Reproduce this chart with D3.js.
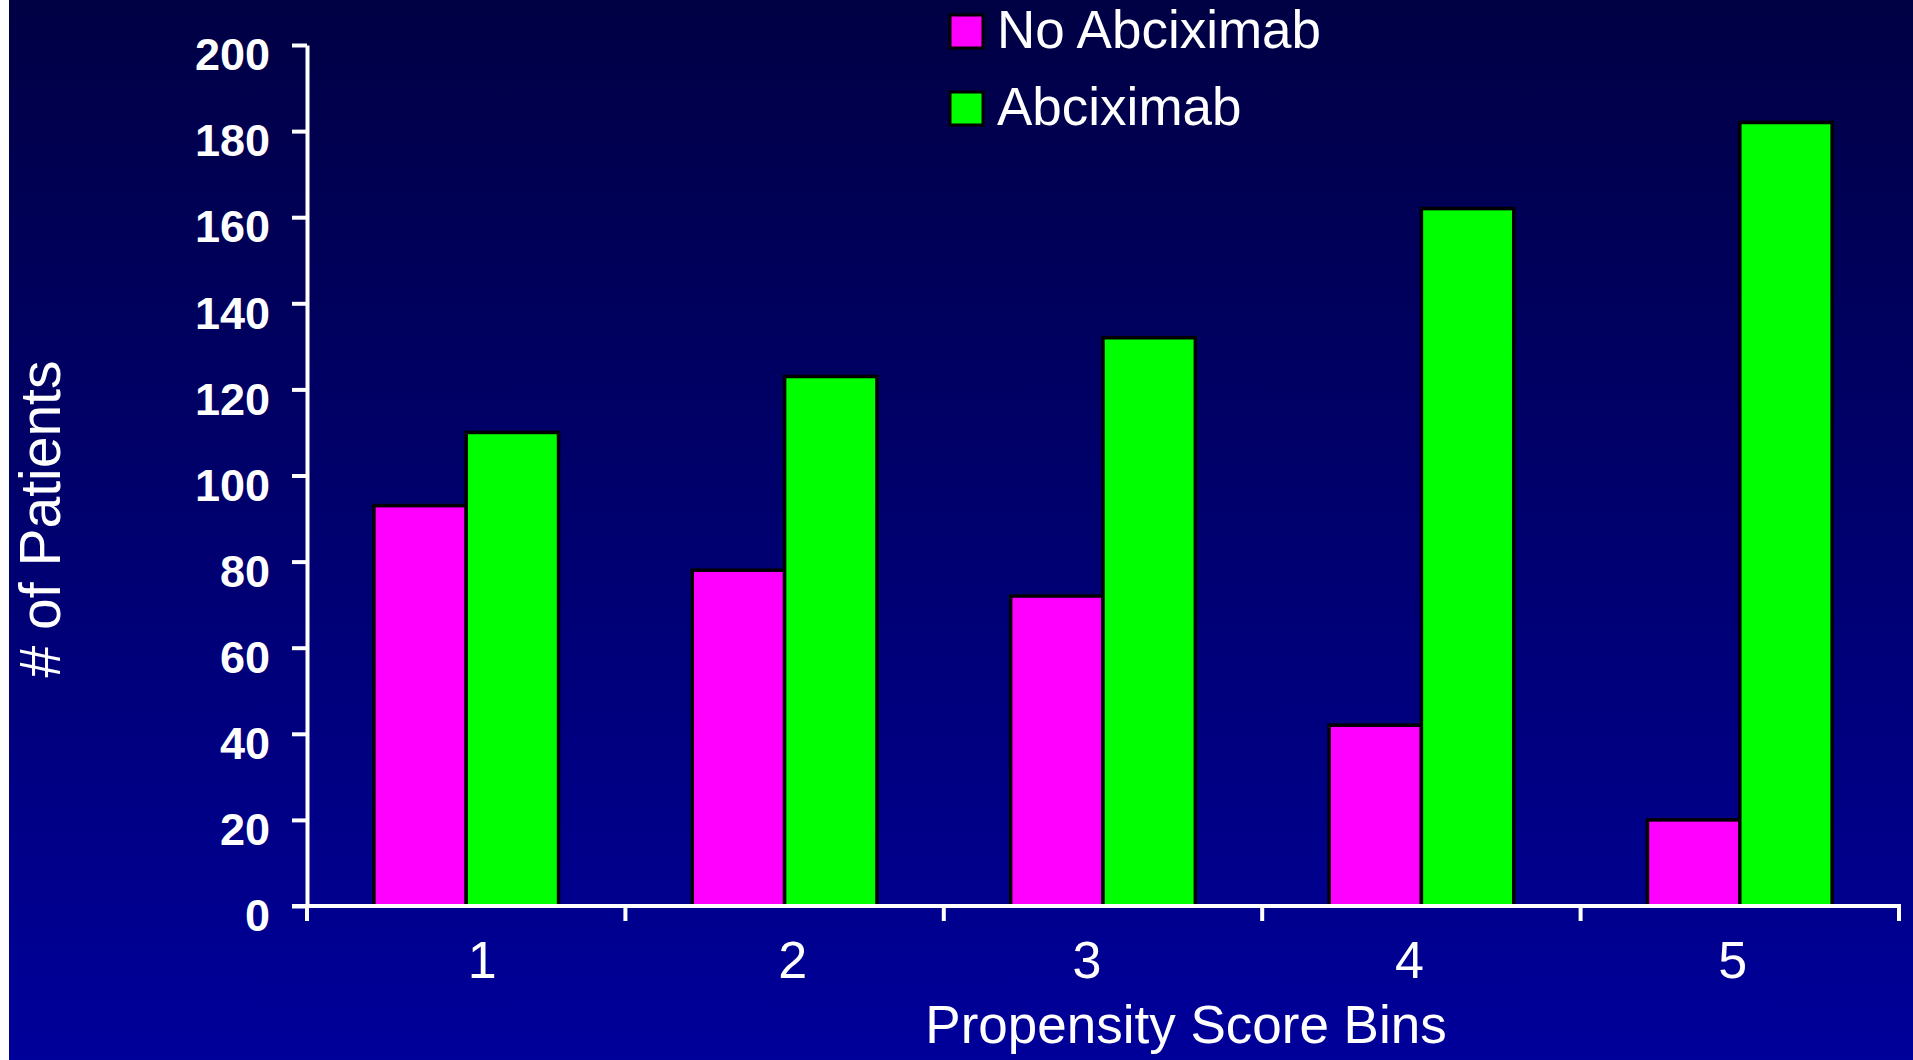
<!DOCTYPE html>
<html>
<head>
<meta charset="utf-8">
<script src="https://cdn.jsdelivr.net/npm/d3@7"></script>
<style>
  html, body { margin: 0; padding: 0; background: #ffffff; overflow: hidden; }
  svg { display: block; font-family: "Liberation Sans", Arial, Helvetica, sans-serif; }
</style>
</head>
<body>
<svg id="chart" width="1913" height="1060"></svg>
<script>
// Patient counts per propensity score bin
const bins = ["1", "2", "3", "4", "5"];
const seriesNames = ["No Abciximab", "Abciximab"];
const noAbciximab = [93, 78, 72, 42, 20];
const abciximab = [110, 123, 132, 162, 182];
const yTickValues = [0, 20, 40, 60, 80, 100, 120, 140, 160, 180, 200];
const seriesColors = ["#ff00ff", "#00ff00"];

// Hand-placed horizontal nudges for the bin labels (px)
const binLabelNudge = [16, 8, -16, -12, -7];

const W = 1913, H = 1060;
const svg = d3.select("#chart");

// Slide background: white strip on the left, vertical navy gradient
const defs = svg.append("defs");
const grad = defs.append("linearGradient")
  .attr("id", "bg").attr("x1", 0).attr("y1", 0).attr("x2", 0).attr("y2", 1);
grad.append("stop").attr("offset", "0%").attr("stop-color", "#000044");
grad.append("stop").attr("offset", "100%").attr("stop-color", "#00009a");
svg.append("rect").attr("width", W).attr("height", H).attr("fill", "#ffffff");
svg.append("rect").attr("x", 9).attr("width", W - 9).attr("height", H).attr("fill", "url(#bg)");

const plot = { left: 307, right: 1899, top: 45, bottom: 906 };

const x = d3.scaleBand().domain(bins).range([plot.left, plot.right]).padding(0);
const xs = d3.scaleBand().domain(seriesNames)
  .range([x.bandwidth() * 0.21, x.bandwidth() * 0.79]).padding(0);
const y = d3.scaleLinear().domain([0, 200]).range([plot.bottom, plot.top]);

const rows = bins.map((b, i) => ({ bin: b, values: [noAbciximab[i], abciximab[i]] }));

// Bars
const groups = svg.append("g").selectAll("g").data(rows).join("g")
  .attr("transform", d => `translate(${x(d.bin)},0)`);
groups.selectAll("rect")
  .data(d => d.values.map((v, j) => ({ name: seriesNames[j], value: v, color: seriesColors[j] })))
  .join("rect")
  .attr("x", d => xs(d.name))
  .attr("y", d => y(d.value))
  .attr("width", xs.bandwidth())
  .attr("height", d => y(0) - y(d.value))
  .attr("fill", d => d.color)
  .attr("stroke", "#000000")
  .attr("stroke-width", 3.5);

// Y axis
const yAxis = svg.append("g")
  .attr("transform", `translate(${plot.left},0)`)
  .call(d3.axisLeft(y).tickValues(yTickValues).tickSize(15).tickSizeOuter(0).tickPadding(22));
yAxis.select(".domain").attr("stroke", "#ffffff").attr("stroke-width", 4);
yAxis.selectAll(".tick line").attr("stroke", "#ffffff").attr("stroke-width", 4);
yAxis.selectAll(".tick text")
  .attr("fill", "#ffffff")
  .attr("dy", "0.55em")
  .style("font-size", "45px")
  .style("font-weight", "bold")
  .style("font-family", "'Liberation Sans', Arial, sans-serif");

// X axis: baseline, tick marks at bin boundaries, bin labels
const xAxis = svg.append("g");
xAxis.append("line")
  .attr("x1", plot.left - 15).attr("x2", plot.right + 2)
  .attr("y1", y(0)).attr("y2", y(0))
  .attr("stroke", "#ffffff").attr("stroke-width", 4);
const boundaries = bins.map(b => x(b)).concat([x.range()[1]]);
xAxis.selectAll("line.tick").data(boundaries).join("line")
  .attr("class", "tick")
  .attr("x1", d => d).attr("x2", d => d)
  .attr("y1", y(0)).attr("y2", y(0) + 15)
  .attr("stroke", "#ffffff").attr("stroke-width", 4);
xAxis.selectAll("text").data(bins).join("text")
  .attr("x", (d, i) => x(d) + x.bandwidth() / 2 + binLabelNudge[i])
  .attr("y", 978)
  .attr("text-anchor", "middle")
  .attr("fill", "#ffffff")
  .style("font-size", "52px")
  .text(d => d);

// Axis titles
svg.append("text")
  .attr("x", 1186).attr("y", 1043)
  .attr("text-anchor", "middle")
  .attr("fill", "#ffffff")
  .style("font-size", "53px")
  .text("Propensity Score Bins");

svg.append("text")
  .attr("transform", "translate(60,519) rotate(-90)")
  .attr("text-anchor", "middle")
  .attr("fill", "#ffffff")
  .style("font-size", "57px")
  .text("# of Patients");

// Legend
const legend = svg.append("g").attr("transform", "translate(950,15)");
const items = legend.selectAll("g").data(seriesNames).join("g")
  .attr("transform", (d, i) => `translate(0,${i * 77})`);
items.append("rect")
  .attr("width", 33).attr("height", 33)
  .attr("fill", (d, i) => seriesColors[i])
  .attr("stroke", "#000000").attr("stroke-width", 3);
items.append("text")
  .attr("x", 47).attr("y", 33)
  .attr("fill", "#ffffff")
  .style("font-size", "53px")
  .text(d => d);
</script>
</body>
</html>
